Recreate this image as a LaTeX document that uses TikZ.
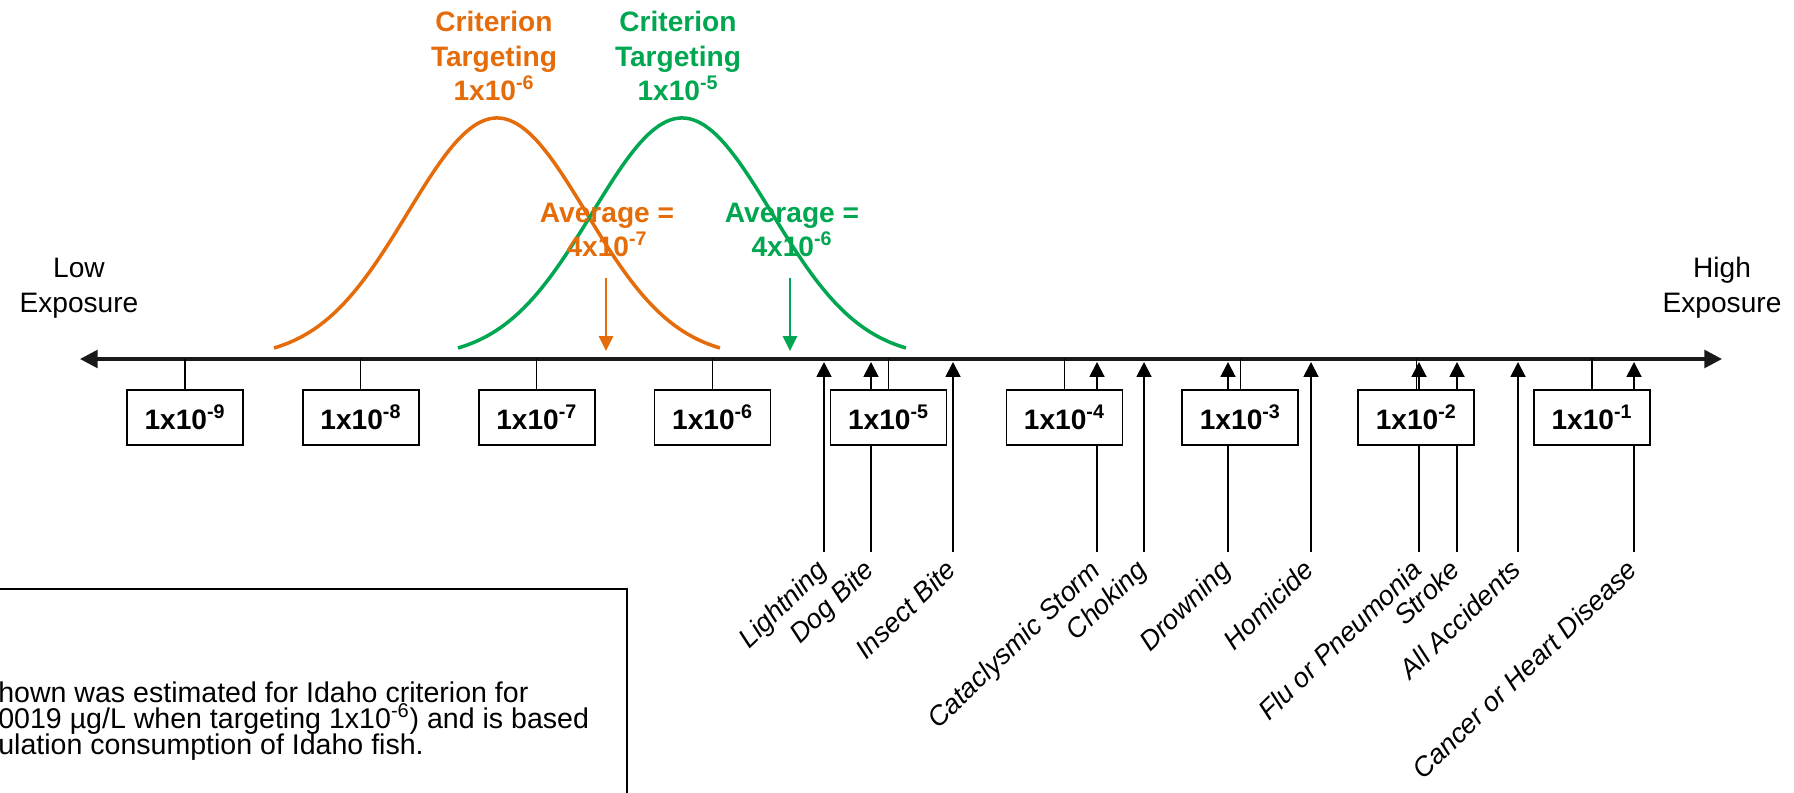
\documentclass[tikz,border=0pt]{standalone}
\usepackage{fontspec}
\setmainfont{Liberation Sans}
\definecolor{CritOrange}{RGB}{228,108,10}
\definecolor{CritGreen} {RGB}{0,166,80}
\usetikzlibrary{arrows.meta,positioning}
\newcommand\notefont{\fontsize{16.25}{15}\selectfont\setlength{\lineskiplimit}{-20pt}}

\begin{document}
\begin{tikzpicture}[x=0.02cm,y=-0.02cm,
  expbox/.style={draw=black,fill=white,line width=0.95pt,inner sep=0pt,
                 minimum width=2.32cm,minimum height=1.1cm,
                 font=\bfseries\fontsize{16}{19}\selectfont},
  tickln/.style={line width=0.6pt},
  axisln/.style={{Triangle[length=10pt,width=10pt]}-{Triangle[length=10pt,width=10pt]},
                 line width=2pt,black!90},
  risk/.style={-{Triangle[length=8.5pt,width=8.5pt]},line width=1.1pt},
  risklbl/.style={rotate=44,anchor=base east,inner sep=0pt,
                  font=\itshape\fontsize{15.5}{19}\selectfont},
  endlbl/.style={align=center,font=\fontsize{16}{19.9}\selectfont},
  crit/.style={align=center,font=\bfseries\fontsize{16}{19.6}\selectfont},
  avglbl/.style={align=center,font=\bfseries\fontsize{16}{19.5}\selectfont},
  avgarrow/.style={-{Triangle[length=8.5pt,width=8pt]},line width=1.4pt},
  bell/.style={line width=2pt}]
  \useasboundingbox (0,0) rectangle (1794,793);
  \clip (0,0) rectangle (1794,793);

  % exposure axis
  \coordinate (lo) at (80,359);
  \coordinate (hi) at (1722,359);
  \coordinate (tipline) at (0,362);
  \draw[axisln] (lo) -- (hi);
  \node[endlbl] (low)  at (79,288)   {Low\\Exposure};
  \node[endlbl] (high) at (1722,288) {High\\Exposure};

  % criterion curves
  \draw[bell,CritOrange] plot[domain=-2.5:2.5,samples=90,smooth]
    ({497+89.2*\x},{348-230*(exp(-0.5*(\x)*(\x))-exp(-3.125))/(1-exp(-3.125))});
  \draw[bell,CritGreen] plot[domain=-2.5:2.5,samples=90,smooth]
    ({682+89.6*\x},{348-230*(exp(-0.5*(\x)*(\x))-exp(-3.125))/(1-exp(-3.125))});
  \node[crit,CritOrange] (critO) at (494,56) {Criterion\\Targeting\\1x10\textsuperscript{-6}};
  \node[crit,CritGreen]  (critG) at (678,56) {Criterion\\Targeting\\1x10\textsuperscript{-5}};

  % averages
  \node[avglbl,CritOrange] (avgO) at (607,230) {Average =\\4x10\textsuperscript{-7}};
  \node[avglbl,CritGreen]  (avgG) at (792,230) {Average =\\4x10\textsuperscript{-6}};
  \coordinate (avgO-top) at (606,278);
  \coordinate (avgG-top) at (790,278);
  \draw[avgarrow,CritOrange] (avgO-top) -- (avgO-top |- 0,351);
  \draw[avgarrow,CritGreen]  (avgG-top) -- (avgG-top |- 0,351);

  % risks of death (drawn before the boxes)
  \coordinate (lightning) at (824,552);
  \coordinate (dogbite)   at (871,552);
  \coordinate (insect)    at (953,552);
  \coordinate (storm)     at (1097,552);
  \coordinate (choking)   at (1144,552);
  \coordinate (drowning)  at (1228,552);
  \coordinate (homicide)  at (1311,552);
  \coordinate (flu)       at (1419,552);
  \coordinate (stroke)    at (1457,552);
  \coordinate (accidents) at (1518,552);
  \coordinate (cancer)    at (1634,552);
  \foreach \r in {lightning,dogbite,insect,storm,choking,drowning,
                  homicide,flu,stroke,accidents,cancer}
    \draw[risk] (\r) -- (\r |- tipline);
  \node[risklbl] (lightning-l) at ([shift={(5,20)}]lightning) {Lightning};
  \node[risklbl] (dogbite-l)   at ([shift={(5,20)}]dogbite)   {Dog Bite};
  \node[risklbl] (insect-l)    at ([shift={(5,20)}]insect)    {Insect Bite};
  \node[risklbl] (storm-l)     at ([shift={(5,20)}]storm)     {Cataclysmic Storm};
  \node[risklbl] (choking-l)   at ([shift={(5,20)}]choking)   {Choking};
  \node[risklbl] (drowning-l)  at ([shift={(5,20)}]drowning)  {Drowning};
  \node[risklbl] (homicide-l)  at ([shift={(5,20)}]homicide)  {Homicide};
  \node[risklbl] (flu-l)       at ([shift={(5,20)}]flu)       {Flu or Pneumonia};
  \node[risklbl] (stroke-l)    at ([shift={(5,20)}]stroke)    {Stroke};
  \node[risklbl] (accidents-l) at ([shift={(5,20)}]accidents) {All Accidents};
  \node[risklbl] (cancer-l)    at ([shift={(5,20)}]cancer)    {Cancer or Heart Disease};

  % risk level boxes
  \node[expbox] (e9) at (185,417.5)    {1x10\textsuperscript{-9}};
  \node[expbox] (e8) at (360.9,417.5)  {1x10\textsuperscript{-8}};
  \node[expbox] (e7) at (536.8,417.5)  {1x10\textsuperscript{-7}};
  \node[expbox] (e6) at (712.6,417.5)  {1x10\textsuperscript{-6}};
  \node[expbox] (e5) at (888.5,417.5)  {1x10\textsuperscript{-5}};
  \node[expbox] (e4) at (1064.4,417.5) {1x10\textsuperscript{-4}};
  \node[expbox] (e3) at (1240.3,417.5) {1x10\textsuperscript{-3}};
  \node[expbox] (e2) at (1416.2,417.5) {1x10\textsuperscript{-2}};
  \node[expbox] (e1) at (1592,417.5)   {1x10\textsuperscript{-1}};
  \foreach \b in {e9,e8,e7,e6,e5,e4,e3,e2,e1}
    \draw[tickln] (\b.north) -- (\b |- lo);

  % note
  \draw[line width=0.9pt] (-10,589) rectangle (627,820);
  \node[anchor=west,align=left,inner sep=0pt,font=\notefont] (note) at (-2,721)
    {hown was estimated for Idaho criterion for\\
     0019 µg/L when targeting 1x10\textsuperscript{-6}) and is based\\
     ulation consumption of Idaho fish.};
\end{tikzpicture}
\end{document}
